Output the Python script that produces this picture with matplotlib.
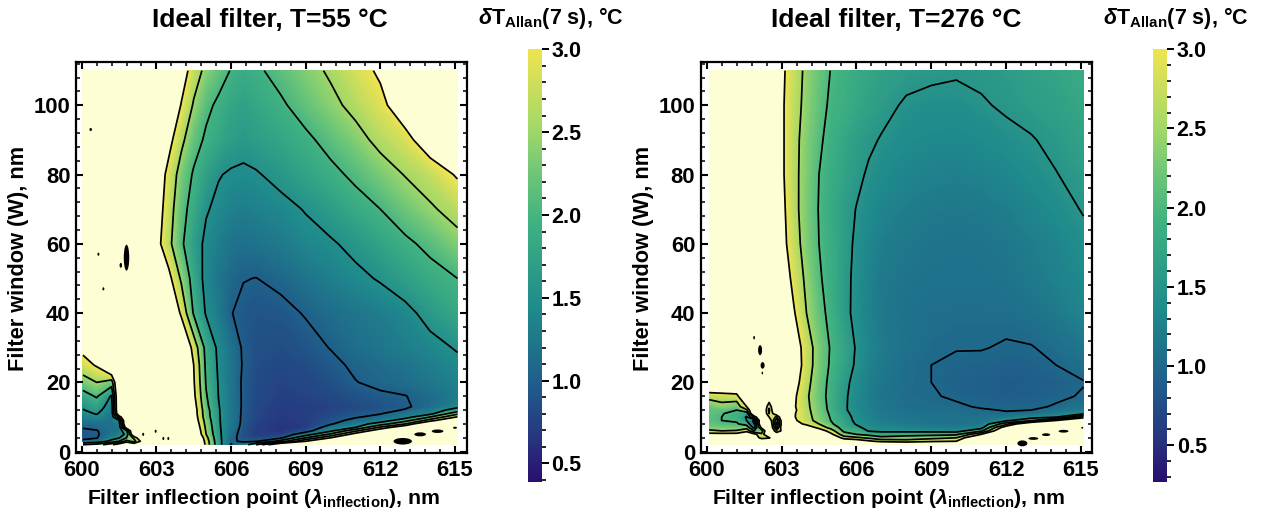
import numpy as np
import matplotlib
matplotlib.use('Agg')
import matplotlib.pyplot as plt
from matplotlib.colors import LinearSegmentedColormap, Normalize
from matplotlib.cm import ScalarMappable
from matplotlib.patches import Ellipse
from matplotlib.ticker import MultipleLocator

plt.rcParams['font.family'] = ['Liberation Sans', 'DejaVu Sans']
plt.rcParams['font.weight'] = 'bold'
plt.rcParams['mathtext.fontset'] = 'custom'
plt.rcParams['mathtext.rm'] = 'Liberation Sans:bold'
plt.rcParams['mathtext.bf'] = 'Liberation Sans:bold'
plt.rcParams['mathtext.it'] = 'Liberation Sans:italic:bold'
plt.rcParams['mathtext.bfit'] = 'Liberation Sans:italic:bold'

# filter window rows shared by both maps
w_rows = [2, 3, 4, 5, 6, 7, 8, 9, 10, 11, 12, 13, 16, 20, 25, 30, 40, 50, 60, 70, 80, 90, 100, 110]

x_left = [600.05, 600.6, 601.2, 601.5, 601.8, 602.1, 602.5, 603, 603.5, 604, 604.5, 605, 605.5, 606, 606.5, 607,
          608, 609, 610, 611, 612, 613, 614, 615.1]
z_left = [
    [2.0, 2.2, 2.9, 3.4, 4, 3.5, 4, 4, 4, 4, 4.8, 2.8, 1.67, .98, 1.2, 2.0, 4, 4, 4, 4, 4, 4, 4, 4],
    [1.05, 1.15, 1.65, 2.0, 2.7, 2.3, 3.4, 4, 4, 4, 4.5, 2.75, 1.65, 1.05, .95, .95, 1.7, 3, 4, 4, 4, 4, 4, 4],
    [.95, .98, 1.3, 1.45, 2.0, 2.6, 4, 4, 4, 4, 4.2, 2.65, 1.62, 1.1, .88, .78, .92, 2.0, 3.0, 4, 4, 4, 4, 4],
    [.9, .96, 1.2, 1.3, 1.6, 3.8, 4, 4, 4, 4, 3.8, 2.5, 1.6, 1.13, .87, .72, .72, 1.25, 2.1, 3.3, 4, 4, 4, 4],
    [.95, .98, 1.18, 1.22, 1.9, 4, 4, 4, 4, 4, 3.7, 2.45, 1.58, 1.17, .88, .72, .65, .85, 1.42, 2.4, 3.5, 4, 4, 4],
    [1.02, 1.07, 1.17, 1.22, 3.4, 4, 4, 4, 4, 4, 3.6, 2.4, 1.56, 1.2, .9, .74, .65, .7, 1.18, 1.5, 2.6, 3.6, 4, 4],
    [1.1, 1.15, 1.17, 1.28, 4, 4, 4, 4, 4, 4, 3.5, 2.35, 1.55, 1.22, .92, .75, .66, .7, .97, 1.25, 1.75, 2.5, 4, 4],
    [1.2, 1.27, 1.18, 1.5, 4, 4, 4, 4, 4, 4, 3.4, 2.3, 1.54, 1.23, .93, .76, .67, .71, .88, 1.1, 1.25, 1.8, 2.75, 4],
    [1.3, 1.4, 1.2, 2.6, 4, 4, 4, 4, 4, 4, 3.35, 2.22, 1.54, 1.23, .93, .78, .68, .72, .84, .97, 1.1, 1.3, 2.0, 3.05],
    [1.4, 1.53, 1.22, 3.8, 4, 4, 4, 4, 4, 4, 3.3, 2.2, 1.53, 1.23, .94, .79, .69, .72, .8, .9, .98, 1.2, 1.35, 2.35],
    [1.48, 1.63, 1.25, 4, 4, 4, 4, 4, 4, 4, 3.3, 2.18, 1.53, 1.23, .94, .8, .7, .72, .78, .85, .92, 1.02, 1.25, 1.7],
    [1.55, 1.72, 1.3, 4, 4, 4, 4, 4, 4, 4, 3.25, 2.12, 1.52, 1.23, .95, .8, .71, .72, .76, .82, .88, .96, 1.12, 1.4],
    [1.8, 2.05, 1.45, 4, 4, 4, 4, 4, 4, 4, 3.12, 2.04, 1.49, 1.22, .95, .82, .74, .76, .81, .88, .95, .99, 1.12, 1.28],
    [2.28, 2.5, 2.25, 4, 4, 4, 4, 4, 4, 4, 3.05, 1.96, 1.47, 1.2, .95, .83, .77, .8, .86, .99, 1.07, 1.13, 1.23, 1.35],
    [2.8, 3.05, 4, 4, 4, 4, 4, 4, 4, 4, 3, 1.9, 1.44, 1.2, .97, .85, .8, .84, .93, 1.05, 1.12, 1.2, 1.3, 1.42],
    [3.15, 4, 4, 4, 4, 4, 4, 4, 4, 3.8, 2.8, 1.85, 1.41, 1.18, .96, .87, .84, .9, 1.01, 1.13, 1.22, 1.3, 1.39, 1.53],
    [4, 4, 4, 4, 4, 4, 4, 4, 3.8, 2.9, 1.95, 1.46, 1.27, 1.01, .93, .9, .92, 1.02, 1.13, 1.22, 1.3, 1.4, 1.62, 1.82],
    [4, 4, 4, 4, 4, 4, 4, 3.6, 3.15, 2.43, 1.8, 1.37, 1.22, 1.08, 1.01, .995, 1.07, 1.2, 1.31, 1.42, 1.53, 1.7, 1.85, 2.0],
    [4, 4, 4, 4, 4, 4, 4, 3.2, 2.62, 2.07, 1.68, 1.42, 1.3, 1.2, 1.16, 1.18, 1.27, 1.38, 1.46, 1.59, 1.75, 1.92, 2.1, 2.35],
    [4, 4, 4, 4, 4, 4, 4, 3.3, 2.72, 2.15, 1.83, 1.53, 1.42, 1.33, 1.3, 1.33, 1.4, 1.52, 1.67, 1.84, 2.0, 2.23, 2.44, 2.67],
    [4, 4, 4, 4, 4, 4, 4, 3.4, 2.83, 2.3, 1.95, 1.7, 1.52, 1.46, 1.44, 1.47, 1.6, 1.75, 1.9, 2.08, 2.3, 2.52, 2.72, 3.05],
    [4, 4, 4, 4, 4, 4, 4, 3.7, 3.17, 2.61, 2.18, 1.93, 1.8, 1.68, 1.62, 1.68, 1.78, 1.92, 2.13, 2.35, 2.62, 2.85, 3.3, 3.7],
    [4, 4, 4, 4, 4, 4, 4, 4, 3.6, 2.97, 2.45, 2.1, 1.92, 1.78, 1.73, 1.8, 1.94, 2.17, 2.39, 2.62, 2.88, 3.3, 3.7, 4],
    [4, 4, 4, 4, 4, 4, 4, 4, 3.9, 3.31, 2.73, 2.38, 2.18, 1.98, 1.86, 1.93, 2.14, 2.35, 2.56, 2.82, 3.07, 3.3, 3.6, 3.9],
]

x_right = [600.1, 600.6, 601.2, 601.6, 601.9, 602.2, 602.5, 602.8, 603.1, 603.5, 604, 604.5, 605, 605.5, 606, 606.5,
           607, 608, 609, 610, 611, 612, 613, 614, 615.1]
z_right = [
    [4, 4, 4, 4, 4, 4, 4, 4, 4, 4, 4, 4, 4, 4, 4, 4, 4, 4, 4, 4, 4, 4, 4, 4, 4],
    [4, 4, 4, 4, 4, 4, 4, 4, 4, 4, 4, 4, 4, 3.6, 3.4, 3.1, 2.85, 2.7, 2.9, 3.0, 4, 4, 4, 4, 4],
    [4, 4, 4, 4, 3.6, 2.7, 2.9, 4, 3.3, 4, 4, 4, 3.7, 2.75, 2.6, 2.4, 2.15, 2.25, 2.35, 2.5, 4, 4, 4, 4, 4],
    [3.2, 3.2, 3.2, 3.5, 3.2, 2.6, 4, 3.5, 3.1, 4, 4, 4, 3.1, 2.2, 2.0, 1.85, 1.7, 1.8, 1.85, 1.9, 3.0, 4, 4, 4, 4],
    [2.6, 2.5, 2.55, 2.85, 2.0, 2.2, 4, 2.6, 3.3, 4, 4, 3.4, 2.7, 1.9, 1.85, 1.46, 1.42, 1.38, 1.35, 1.3, 1.9, 4, 4, 4, 4],
    [2.25, 2.2, 2.2, 2.3, 1.3, 3.2, 4, 1.8, 4, 4, 3.4, 2.8, 2.3, 1.78, 1.58, 1.38, 1.32, 1.25, 1.2, 1.2, 1.3, 3.4, 4, 4, 4],
    [2.15, 2.05, 2.05, 1.8, 1.0, 4, 4, 1.4, 4, 3.3, 2.85, 2.5, 2.05, 1.72, 1.47, 1.33, 1.26, 1.2, 1.13, 1.12, 1.15, 2.3, 4, 4, 4],
    [2.1, 2.0, 1.95, 1.5, .9, 4, 3.6, 1.6, 4, 3.1, 2.68, 2.33, 1.98, 1.68, 1.42, 1.3, 1.22, 1.15, 1.1, 1.1, 1.12, 1.4, 1.9, 3.0, 4],
    [2.1, 2.0, 1.9, 1.45, 2.6, 4, 3.0, 2.4, 4, 3.04, 2.66, 2.3, 1.95, 1.65, 1.4, 1.27, 1.19, 1.13, 1.11, 1.1, 1.1, 1.15, 1.3, 1.45, 2.7],
    [2.12, 2.02, 1.9, 1.7, 4, 4, 2.5, 3.5, 4, 3.05, 2.64, 2.27, 1.92, 1.6, 1.38, 1.26, 1.17, 1.1, 1.08, 1.06, 1.05, 1.02, 1.05, 1.2, 1.4],
    [2.15, 2.1, 2.0, 2.4, 4, 4, 2.4, 4, 4, 3.1, 2.62, 2.24, 1.88, 1.55, 1.37, 1.25, 1.16, 1.08, 1.06, 1.06, 1.02, .99, 1.0, 1.08, 1.2],
    [2.2, 2.35, 2.2, 3.0, 4, 4, 2.6, 4, 4, 3.06, 2.6, 2.22, 1.87, 1.55, 1.36, 1.24, 1.15, 1.07, 1.04, 1.03, .98, .95, .96, 1.02, 1.1],
    [2.65, 2.72, 2.8, 4, 4, 4, 3.6, 4, 4, 3.1, 2.57, 2.18, 1.85, 1.56, 1.36, 1.22, 1.13, 1.04, 1.02, .97, .92, .89, .9, .96, 1.02],
    [4, 4, 4, 4, 4, 4, 4, 4, 4, 3.25, 2.65, 2.2, 1.88, 1.6, 1.38, 1.24, 1.15, 1.05, 1.0, .93, .9, .87, .88, .92, .99],
    [4, 4, 4, 4, 4, 4, 4, 4, 4, 3.4, 2.74, 2.26, 1.93, 1.68, 1.45, 1.28, 1.17, 1.06, 1.0, .96, .95, .92, .93, 1.0, 1.08],
    [4, 4, 4, 4, 4, 4, 4, 4, 4, 3.35, 2.73, 2.28, 1.95, 1.72, 1.47, 1.3, 1.2, 1.1, 1.03, 1.01, 1.01, .98, .99, 1.05, 1.15],
    [4, 4, 4, 4, 4, 4, 4, 4, 4, 3.04, 2.5, 2.14, 1.87, 1.6, 1.41, 1.27, 1.18, 1.09, 1.06, 1.05, 1.05, 1.06, 1.1, 1.18, 1.3],
    [4, 4, 4, 4, 4, 4, 4, 4, 3.3, 2.83, 2.4, 2.05, 1.83, 1.6, 1.42, 1.28, 1.18, 1.13, 1.1, 1.1, 1.1, 1.12, 1.18, 1.26, 1.36],
    [4, 4, 4, 4, 4, 4, 4, 4, 3.1, 2.7, 2.3, 2.0, 1.82, 1.63, 1.44, 1.32, 1.23, 1.17, 1.13, 1.12, 1.13, 1.16, 1.22, 1.3, 1.42],
    [4, 4, 4, 4, 4, 4, 4, 4, 3.05, 2.63, 2.28, 1.98, 1.78, 1.62, 1.49, 1.38, 1.3, 1.22, 1.18, 1.17, 1.18, 1.23, 1.3, 1.39, 1.52],
    [4, 4, 4, 4, 4, 4, 4, 4, 3.0, 2.62, 2.3, 2.0, 1.82, 1.7, 1.57, 1.46, 1.38, 1.3, 1.26, 1.25, 1.27, 1.32, 1.4, 1.49, 1.6],
    [4, 4, 4, 4, 4, 4, 4, 4, 3.0, 2.63, 2.32, 2.06, 1.87, 1.74, 1.63, 1.55, 1.48, 1.38, 1.35, 1.34, 1.37, 1.42, 1.48, 1.57, 1.68],
    [4, 4, 4, 4, 4, 4, 4, 4, 3.0, 2.68, 2.37, 2.13, 1.93, 1.85, 1.75, 1.67, 1.59, 1.46, 1.42, 1.42, 1.47, 1.54, 1.6, 1.66, 1.75],
    [4, 4, 4, 4, 4, 4, 4, 4, 3.03, 2.72, 2.4, 2.18, 1.98, 1.9, 1.8, 1.74, 1.68, 1.6, 1.56, 1.53, 1.56, 1.6, 1.67, 1.73, 1.82],
]

# small closed contours in the pale area: centre x, centre W, width, height
specks_left_x = [601.8, 600.36, 600.67, 601.57, 600.87, 602.47, 602.97, 603.28, 603.48, 612.9, 613.6, 614.3, 615.0]
specks_left_w = [56.0, 93, 57, 53.8, 47, 5, 5.9, 3.8, 3.8, 3.0, 5.0, 5.9, 6.9]
specks_left_dx = [.22, .1, .08, .1, .08, .08, .08, .08, .08, .74, .47, .47, .16]
specks_left_dw = [7.5, .9, .9, 1.4, .9, .9, .9, .9, .9, 1.9, 1.15, 1.0, .6]

specks_right_x = [601.9, 602.14, 602.24, 602.23, 612.65, 613.09, 613.6, 614.3, 615.05]
specks_right_w = [32.9, 29.3, 24.9, 22.7, 2.4, 3.8, 4.9, 5.9, 6.9]
specks_right_dx = [.07, .16, .16, .06, .4, .4, .33, .4, .08]
specks_right_dw = [1.0, 2.9, 1.9, .8, 1.7, .8, .8, .8, .5]

titles = ['Ideal filter, T=55 °C', 'Ideal filter, T=276 °C']
contour_levels = [1.0, 1.5, 2.0, 2.5, 3.0]
cbar_ticks = [0.5, 1.0, 1.5, 2.0, 2.5, 3.0]
vmin_left = 0.39
vmin_right = 0.27
vmax = 3.0

cmap = LinearSegmentedColormap.from_list('allan', [
    (0.0, '#2a0f6e'), (0.10, '#27357f'), (0.22, '#1f5c8a'), (0.40, '#1f8a8c'),
    (0.60, '#3fb181'), (0.72, '#70c777'), (0.82, '#a3d868'), (1.0, '#efe350')], N=256)
cmap.set_over('#fefed4')
cmap.set_under('#2a0f6e')

W, H = 1269, 517
fig = plt.figure(figsize=(W / 100, H / 100), dpi=100)


def px_axes(x0, x1, y0, y1):
    return fig.add_axes([x0 / W, 1 - y1 / H, (x1 - x0) / W, (y1 - y0) / H])


def draw_map(ax, xs, zs, vmin, sx, sw, sdx, sdw):
    z = np.array(zs, dtype=float)
    levels = np.linspace(vmin, vmax, 140)
    ax.contourf(xs, w_rows, z, levels=levels, cmap=cmap, vmin=vmin, vmax=vmax, extend='both', antialiased=False)
    ax.contour(xs, w_rows, z, levels=contour_levels, colors='k', linewidths=1.25)
    for cx, cy, dx, dy in zip(sx, sw, sdx, sdw):
        ax.add_patch(Ellipse((cx, cy), dx, dy, color='k', lw=0))
    ax.set_xticks([600, 603, 606, 609, 612, 615])
    ax.xaxis.set_minor_locator(MultipleLocator(0.6))
    ax.yaxis.set_major_locator(MultipleLocator(20))
    ax.yaxis.set_minor_locator(MultipleLocator(4))
    ax.tick_params(which='major', direction='in', top=True, right=True, length=5, width=1.5, labelsize=15.8, pad=4)
    ax.tick_params(axis='x', which='major', pad=5.5)
    ax.tick_params(which='minor', direction='in', top=True, right=True, length=3, width=1.1)
    for sp in ax.spines.values():
        sp.set_linewidth(1.6)
    ax.set_ylim(-0.3, 112.4)


ax1 = px_axes(76, 466.7, 62.3, 452.7)
draw_map(ax1, x_left, z_left, vmin_left, specks_left_x, specks_left_w, specks_left_dx, specks_left_dw)
ax1.set_xlim(599.77, 615.47)

ax2 = px_axes(700.7, 1092, 62.3, 452.7)
draw_map(ax2, x_right, z_right, vmin_right, specks_right_x, specks_right_w, specks_right_dx, specks_right_dw)
ax2.set_xlim(599.76, 615.44)


def draw_bar(x0, x1, y0, y1, vmin):
    cax = px_axes(x0, x1, y0, y1)
    cb = fig.colorbar(ScalarMappable(Normalize(vmin, vmax), cmap), cax=cax)
    cb.outline.set_visible(False)
    cb.set_ticks(cbar_ticks)
    cb.ax.yaxis.set_minor_locator(MultipleLocator(0.1))
    cb.ax.tick_params(which='major', length=5, width=1.4, labelsize=15.5, pad=2)
    cb.ax.tick_params(which='minor', length=3.2, width=1.2)
    cb.ax.set_yticklabels(['%.1f' % t for t in cbar_ticks])


draw_bar(528, 541.7, 49.3, 481.7, vmin_left)
draw_bar(1153, 1167, 49.3, 481.7, vmin_right)


def ptext(x, y, s, size, **kw):
    fig.text(x / W, 1 - y / H, s, fontsize=size, ha='center', va='center', fontweight='bold', **kw)


ptext(270, 20, titles[0], 19)
ptext(896, 20, titles[1], 19)
bar_label = r'$\mathbfit{\delta}$T$_{\mathbf{Allan}}$(7 s), °C'
ptext(551, 18, bar_label, 15.5)
ptext(1176, 18, bar_label, 15.5)
xlab = r'Filter inflection point ($\mathbfit{\lambda}_{\mathbf{inflection}}$), nm'
ptext(264, 498, xlab, 15.3)
ptext(889, 498, xlab, 15.3)
ptext(19, 258, 'Filter window (W), nm', 15.7, rotation=90)
ptext(644, 258, 'Filter window (W), nm', 15.7, rotation=90)

fig.savefig('out.png', dpi=100)
